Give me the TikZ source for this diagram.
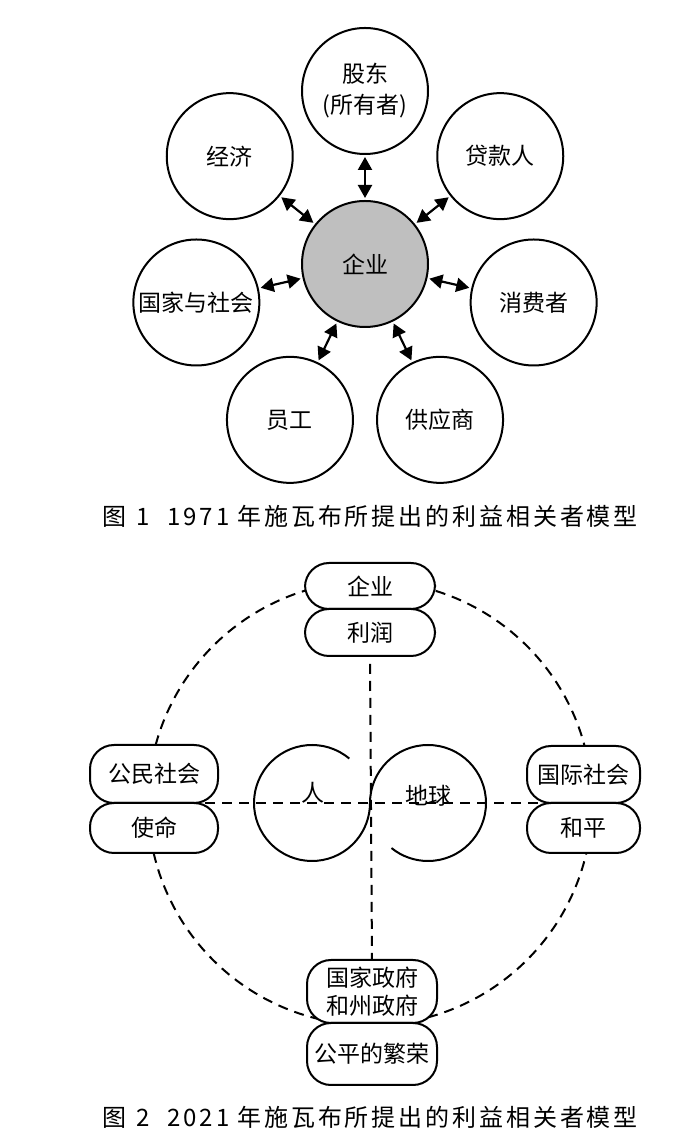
\documentclass[tikz,border=0pt]{standalone}
\usepackage{fontspec}
\setmainfont{Noto Sans CJK SC}
\usepackage{tikz}
\usetikzlibrary{arrows.meta}

\tikzset{
	party/.style={circle,draw,line width=2pt,minimum size=126pt,inner sep=0pt,align=center,font=\fontsize{23}{31}\selectfont},
	pill/.style={rectangle,rounded corners=24pt,draw,fill=white,line width=2pt,inner sep=0pt,outer sep=0pt,align=center,font=\fontsize{23}{28}\selectfont},
	dashline/.style={line width=2pt,dash pattern=on 10pt off 7pt},
	caption/.style={inner sep=0pt,font=\fontsize{24}{28}\selectfont\addfontfeature{LetterSpace=12}},
	tip/.tip={Triangle[length=13pt,width=14pt]},
	both/.style={tip-tip,line width=2.2pt,shorten <=2pt,shorten >=2pt}
}

\begin{document}
\begin{tikzpicture}[x=1pt,y=1pt]
	\useasboundingbox (0,0) rectangle (700,1138);
	% figure 1
	\begin{scope}[shift={(365,874)}]
	\node[party,fill=black!25] (E) at (0,0) {企业};
	\node[party] (S) at (90:173) {股东\\(所有者)};
	\node[party] (Ec) at (141.43:173) {经济};
	\node[party] (St) at (192.86:173) {国家与社会};
	\node[party] (W) at (244.29:173) {员工};
	\node[party] (Su) at (295.71:173) {供应商};
	\node[party] (C) at (347.14:173) {消费者};
	\node[party] (L) at (38.57:173) {贷款人};
	%
	\path[every edge/.style={draw,both}]
	(E) edge (S)
	(E) edge (Ec)
	(E) edge (St)
	(E) edge (W)
	(E) edge (Su)
	(E) edge (C)
	(E) edge (L);
	\end{scope}
	\node[caption] (T1) at (370,622) {图\hspace{10pt}1\hspace{18pt}1971\hspace{8pt}年施瓦布所提出的利益相关者模型};
	% figure 2
	\begin{scope}[shift={(370,335)}]
	\draw[dashline] (0,0) circle[radius=222];
	\coordinate (jt) at (0,194);
	\coordinate (jl) at (-216,0);
	\coordinate (jr) at (213.5,0);
	\coordinate (jb) at (2,-220);
	\draw[dashline] (jl) -- (jr);
	%
	\node[pill,anchor=south,minimum width=130pt,minimum height=46pt] (B) at (jt) {企业};
	\node[pill,anchor=north,minimum width=130pt,minimum height=47pt] (P) at (jt) {利润};
	\node[pill,anchor=south,minimum width=128pt,minimum height=58pt] (Cs) at (jl) {公民社会};
	\node[pill,anchor=north,minimum width=128pt,minimum height=50pt] (M) at (jl) {使命};
	\node[pill,anchor=south,minimum width=113pt,minimum height=57pt] (Ic) at (jr) {国际社会};
	\node[pill,anchor=north,minimum width=113pt,minimum height=50pt] (Pe) at (jr) {和平};
	\node[pill,anchor=south,minimum width=130pt,minimum height=63pt] (G) at (jb) {国家政府\\和州政府};
	\node[pill,anchor=north,minimum width=130pt,minimum height=62pt] (Pr) at (jb) {公平的繁荣};
	%
	\draw[dashline,shorten <=8pt] (P.south) -- (G.north);
	\draw[line width=2pt] (-58,0) ++(50:58) arc[start angle=50,end angle=360,radius=58];
	\draw[line width=2pt] (58,0) ++(180:58) arc[start angle=180,end angle=-129,radius=58];
	\node[font=\fontsize{23}{28}\selectfont] (H) at (-57,10) {人};
	\node[font=\fontsize{23}{28}\selectfont] (Ea) at (58,7) {地球};
	\end{scope}
	\node[caption] (T2) at (370,21) {图\hspace{10pt}2\hspace{18pt}2021\hspace{8pt}年施瓦布所提出的利益相关者模型};
\end{tikzpicture}
\end{document}
